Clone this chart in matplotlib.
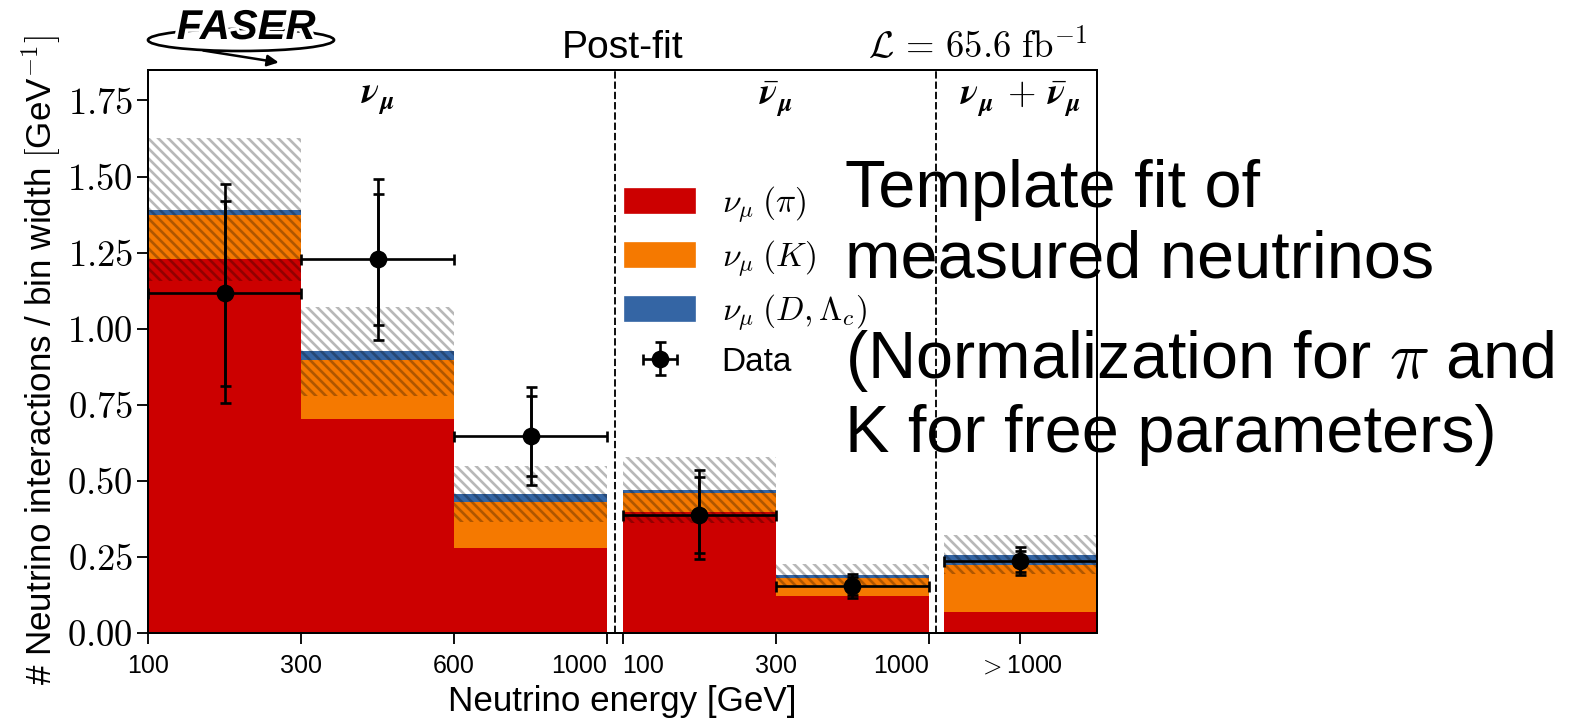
import numpy as np
import matplotlib
matplotlib.use("Agg")
import matplotlib.pyplot as plt
import matplotlib.transforms as mtransforms
import matplotlib.patheffects as pe
from matplotlib.patches import Ellipse, Patch

plt.rcParams['font.family'] = ['Liberation Sans', 'DejaVu Sans']
plt.rcParams['mathtext.fontset'] = 'cm'
plt.rcParams['hatch.linewidth'] = 1.6

# ---- data ----
section_labels = [r'$\boldsymbol{\nu}_{\boldsymbol{\mu}}$',
                  r'$\bar{\boldsymbol{\nu}}_{\boldsymbol{\mu}}$',
                  r'$\boldsymbol{\nu}_{\boldsymbol{\mu}}\,+\,\bar{\boldsymbol{\nu}}_{\boldsymbol{\mu}}$']
bins_per_section = [3, 2, 1]
xtick_labels = ['100', '300', '600', '1000', '100', '300', '1000', r'$>$1000']

nu_pi = np.array([1.228, 0.703, 0.279, 0.398, 0.122, 0.070])
nu_k = np.array([0.147, 0.193, 0.150, 0.063, 0.060, 0.152])
nu_d = np.array([0.016, 0.030, 0.028, 0.009, 0.009, 0.035])
unc_up = np.array([0.237, 0.145, 0.092, 0.108, 0.036, 0.065])
unc_down = np.array([0.235, 0.148, 0.091, 0.110, 0.036, 0.064])

data = np.array([1.118, 1.229, 0.646, 0.388, 0.155, 0.237])
stat_up = np.array([0.303, 0.214, 0.132, 0.124, 0.028, 0.034])
stat_down = np.array([0.308, 0.216, 0.130, 0.124, 0.030, 0.035])
tot_up = np.array([0.359, 0.263, 0.162, 0.146, 0.038, 0.047])
tot_down = np.array([0.362, 0.265, 0.161, 0.146, 0.039, 0.048])

yticks = [0.0, 0.25, 0.5, 0.75, 1.0, 1.25, 1.5, 1.75]

c_pi, c_k, c_d = '#cc0000', '#f57900', '#3465a4'

# bin positions: sections separated by a small gap
gap = 0.1
left = []
sec_bounds = []
pos = 0.0
for n in bins_per_section:
    left += [pos + i for i in range(n)]
    sec_bounds.append((pos, pos + n))
    pos += n + gap
left = np.array(left)
centers = left + 0.5
xmax = sec_bounds[-1][1]

xticks = [sec_bounds[0][0] + i for i in range(4)] + \
         [sec_bounds[1][0] + i for i in range(3)] + \
         [0.5 * (sec_bounds[2][0] + sec_bounds[2][1])]
tick_ha = ['center', 'center', 'center', 'right', 'left', 'center', 'right', 'center']

W, H, DPI = 1569, 722, 120
fig = plt.figure(figsize=(W / DPI, H / DPI), dpi=DPI)
ax = fig.add_axes([148 / W, 1 - 633 / H, 949 / W, 563 / H])

total = nu_pi + nu_k + nu_d
bslash = chr(92)
ax.bar(left, nu_pi, width=1, align='edge', color=c_pi, lw=0)
ax.bar(left, nu_k, width=1, align='edge', bottom=nu_pi, color=c_k, lw=0)
ax.bar(left, nu_d, width=1, align='edge', bottom=nu_pi + nu_k, color=c_d, lw=0)
ax.bar(left, unc_up + unc_down, width=1, align='edge', bottom=total - unc_down,
       fill=False, hatch=bslash * 4, edgecolor=(0, 0, 0, 0.28), lw=0)

eb = ax.errorbar(centers, data, xerr=0.5, yerr=[tot_down, tot_up], fmt='o', color='k',
                 ms=9.6, lw=1.6, capsize=3.3, capthick=1.6, label='Data')
ax.errorbar(centers, data, yerr=[stat_down, stat_up], fmt='none', ecolor='k',
            lw=1.6, capsize=3.3, capthick=1.6)

for (a, b), (c, d) in zip(sec_bounds[:-1], sec_bounds[1:]):
    ax.axvline(0.5 * (b + c), color='k', lw=1.1, ls=(0, (4, 1.6)))

trans = mtransforms.blended_transform_factory(ax.transData, ax.transAxes)
for (a, b), lab in zip(sec_bounds, section_labels):
    ax.text(0.5 * (a + b), 0.947, lab, transform=trans, ha='center', va='center', fontsize=22)

ax.set_xlim(0, xmax)
ax.set_ylim(0, 1.85)
ax.set_xticks(xticks)
ax.set_xticklabels(xtick_labels, fontsize=15)
for t, ha in zip(ax.get_xticklabels(), tick_ha):
    t.set_ha(ha)
ax.set_yticks(yticks)
ax.set_yticklabels([f'${v:.2f}$' for v in yticks], fontsize=22)
ax.tick_params(axis='both', direction='out', length=6.5, width=1.1)
ax.tick_params(axis='x', pad=6)
ax.tick_params(axis='y', pad=2.5)
for s in ax.spines.values():
    s.set_linewidth(1.2)

ax.set_xlabel('Neutrino energy [GeV]', fontsize=21, labelpad=4)
ax.set_ylabel(r'# Neutrino interactions / bin width $[$GeV$^{-1}]$', fontsize=21)
ax.yaxis.set_label_coords(-0.09, 0.485)
ax.set_title('Post-fit', fontsize=23.5, pad=7)
ax.annotate(r'$\mathcal{L}\,=\,65.6\ \mathrm{fb}^{-1}$', xy=(1, 1), xycoords='axes fraction',
            xytext=(-6, 7), textcoords='offset points', ha='right', va='baseline', fontsize=22)

handles = [Patch(color=c_pi), Patch(color=c_k), Patch(color=c_d), eb]
labels = [r'$\nu_\mu\;(\pi)$', r'$\nu_\mu\;(K)$', r'$\nu_\mu\;(D, \Lambda_c)$', 'Data']
ax.legend(handles, labels, loc='upper left', bbox_to_anchor=(0.5026, 0.797), frameon=False,
          fontsize=20, borderpad=0, borderaxespad=0, handlelength=2.1, handleheight=0.75,
          handletextpad=0.8, labelspacing=0.4)

# annotation text on the right
note_lines = ['Template fit of', 'measured neutrinos',
              r'(Normalization for $\pi$ and', 'K for free parameters)']
note_baselines = [207, 277, 378, 452]
for txt, yb in zip(note_lines, note_baselines):
    fig.text(845 / W, 1 - yb / H, txt, fontsize=40, va='baseline', ha='left')

# FASER logo (approximation)
lax = fig.add_axes([140 / W, 1 - 70 / H, 200 / W, 70 / H])
lax.set_xlim(140, 340)
lax.set_ylim(70, 0)
lax.axis('off')
lax.add_patch(Ellipse((241, 40), 186, 22, fill=False, lw=1.6, color='k'))
lax.annotate('', xy=(282, 63), xytext=(200, 50),
             arrowprops=dict(arrowstyle='-|>', color='k', lw=1.5, mutation_scale=14))
lax.text(246, 28, 'FASER', fontsize=25, fontweight='heavy', fontstyle='italic',
         ha='center', va='center', color='k',
         path_effects=[pe.withStroke(linewidth=4, foreground='white')])

fig.savefig('out.png', dpi=DPI)
